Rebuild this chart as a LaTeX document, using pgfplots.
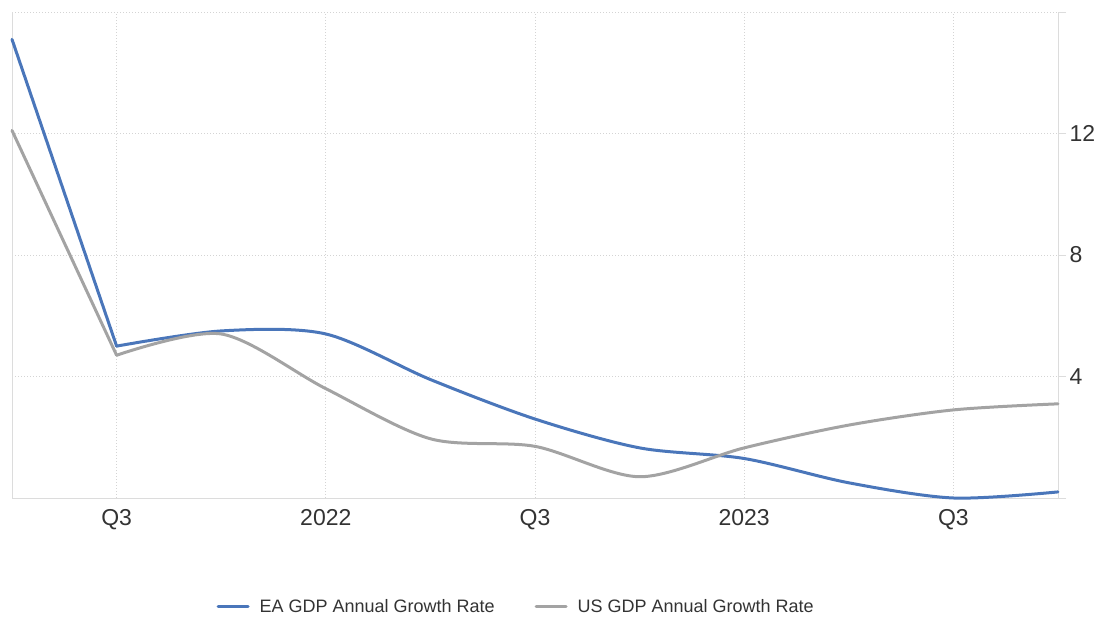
\documentclass[border=0pt]{standalone}
\usepackage{fontspec}
\setmainfont{Liberation Sans}
\usepackage{pgfplots}
\pgfplotsset{compat=1.18}
\definecolor{eablue}{HTML}{4A76BA}
\definecolor{usgray}{HTML}{A3A3A3}
\definecolor{gridgray}{HTML}{D4D4D4}
\definecolor{axisgray}{HTML}{DCDCDC}
\definecolor{labelgray}{HTML}{333333}

\begin{document}
\begin{tikzpicture}
\useasboundingbox (-12pt,-119pt) rectangle (1086pt,498pt);
\begin{axis}[
    at={(0pt,0pt)}, anchor=south west,
    scale only axis, width=1046pt, height=486pt,
    xmin=0, xmax=10, ymin=0, ymax=16,
    xtick={1,3,5,7,9},
    xticklabels={Q3,2022,Q3,2023,Q3},
    ytick={0,4,8,12,16},
    yticklabels={,4,8,12,},
    axis x line*=bottom,
    axis y line*=right,
    axis line style={axisgray, line width=0.8pt},
    xtick style={draw=none},
    ytick style={axisgray, line width=0.8pt},
    tick align=outside,
    major tick length=8pt,
    xmajorgrids, ymajorgrids,
    grid style={gridgray, line width=0.8pt, dash pattern=on 1pt off 2pt},
    tick label style={font=\fontsize{23}{27}\selectfont, text=labelgray},
    /pgf/number format/assume math mode=true,
    clip=false,
    legend style={at={(0.482,-0.224)}, anchor=center, draw=none, fill=none,
        legend columns=2, font=\fontsize{18}{22}\selectfont, text=labelgray,
        /tikz/every even column/.append style={column sep=38pt}},
    legend image code/.code={\draw[#1] (0pt,0pt) -- (30pt,0pt); \path (38pt,0pt);},
    every axis plot/.append style={line width=3pt, smooth, tension=0.5, line cap=round},
]
% left frame line
\draw[axisgray, line width=0.8pt] (rel axis cs:0,0) -- (rel axis cs:0,1);

% EA GDP Annual Growth Rate (split at the Q3 2021 turn, no overshoot)
\addplot[eablue, forget plot] coordinates {
    (0,15.1) (1,5.0)
};
\addplot[eablue] coordinates {
    (1,5.0) (2,5.5) (3,5.4) (4,3.9) (5,2.6)
    (6,1.65) (7,1.3) (8,0.5) (9,0.0) (10,0.2)
};
\addlegendentry{EA GDP Annual Growth Rate}

% US GDP Annual Growth Rate
\addplot[usgray, forget plot] coordinates {
    (0,12.1) (1,4.7)
};
\addplot[usgray] coordinates {
    (1,4.7) (2,5.4) (3,3.6) (4,1.95) (5,1.7)
    (6,0.7) (7,1.65) (8,2.4) (9,2.9) (10,3.1)
};
\addlegendentry{US GDP Annual Growth Rate}
\end{axis}
\end{tikzpicture}
\end{document}
